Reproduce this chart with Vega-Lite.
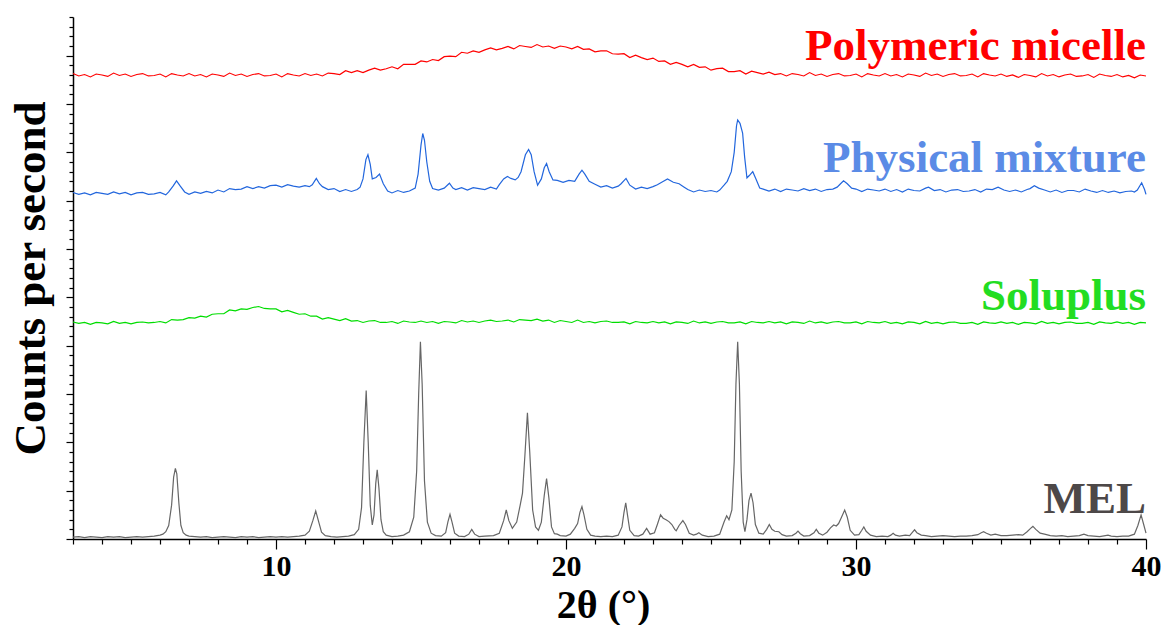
{
"$schema": "https://vega.github.io/schema/vega-lite/v6.json",
"width": 1073, "height": 522,
"autosize": {"type": "none"},
"padding": {"left": 73, "top": 17, "right": 16, "bottom": 86},
"background": "white",
"config": {"view": {"stroke": null}, "axis": {"grid": false, "domainColor": "black", "tickColor": "black", "domainWidth": 1.5, "tickWidth": 1.2}},
"datasets": {
"mel": [{"x":3.0,"y":0.4},{"x":3.2,"y":0.5},{"x":3.4,"y":0.3},{"x":3.6,"y":0.5},{"x":3.8,"y":0.4},{"x":4.0,"y":0.3},{"x":4.2,"y":0.5},{"x":4.4,"y":0.4},{"x":4.6,"y":0.5},{"x":4.8,"y":0.3},{"x":5.0,"y":0.4},{"x":5.2,"y":0.5},{"x":5.4,"y":0.4},{"x":5.6,"y":0.5},{"x":5.8,"y":0.6},{"x":6.0,"y":0.8},{"x":6.1,"y":1.0},{"x":6.2,"y":1.5},{"x":6.3,"y":2.8},{"x":6.4,"y":7.0},{"x":6.47,"y":12.8},{"x":6.53,"y":14.6},{"x":6.58,"y":13.5},{"x":6.65,"y":7.5},{"x":6.72,"y":2.8},{"x":6.8,"y":1.3},{"x":6.9,"y":0.8},{"x":7.0,"y":0.6},{"x":7.2,"y":0.5},{"x":7.4,"y":0.4},{"x":7.6,"y":0.5},{"x":7.8,"y":0.3},{"x":8.0,"y":0.4},{"x":8.2,"y":0.5},{"x":8.4,"y":0.4},{"x":8.6,"y":0.3},{"x":8.8,"y":0.5},{"x":9.0,"y":0.4},{"x":9.2,"y":0.5},{"x":9.4,"y":0.3},{"x":9.6,"y":0.4},{"x":9.8,"y":0.5},{"x":10.0,"y":0.4},{"x":10.2,"y":0.5},{"x":10.4,"y":0.4},{"x":10.6,"y":0.5},{"x":10.8,"y":0.6},{"x":11.0,"y":0.8},{"x":11.15,"y":1.6},{"x":11.27,"y":3.8},{"x":11.37,"y":5.8},{"x":11.47,"y":3.6},{"x":11.57,"y":1.4},{"x":11.7,"y":0.7},{"x":11.9,"y":0.5},{"x":12.1,"y":0.4},{"x":12.3,"y":0.5},{"x":12.5,"y":0.6},{"x":12.7,"y":0.9},{"x":12.85,"y":2.0},{"x":12.95,"y":6.5},{"x":13.03,"y":20.0},{"x":13.11,"y":30.7},{"x":13.18,"y":20.0},{"x":13.25,"y":7.0},{"x":13.32,"y":2.9},{"x":13.38,"y":5.0},{"x":13.44,"y":11.5},{"x":13.49,"y":14.3},{"x":13.55,"y":10.5},{"x":13.62,"y":4.0},{"x":13.7,"y":1.5},{"x":13.8,"y":0.8},{"x":14.0,"y":0.5},{"x":14.2,"y":0.6},{"x":14.4,"y":0.8},{"x":14.6,"y":1.5},{"x":14.75,"y":4.5},{"x":14.85,"y":14.0},{"x":14.92,"y":30.0},{"x":14.98,"y":40.8},{"x":15.04,"y":32.0},{"x":15.12,"y":12.0},{"x":15.22,"y":3.5},{"x":15.35,"y":1.2},{"x":15.5,"y":0.7},{"x":15.7,"y":0.6},{"x":15.85,"y":1.3},{"x":15.93,"y":3.6},{"x":16.0,"y":5.1},{"x":16.07,"y":3.5},{"x":16.16,"y":1.2},{"x":16.3,"y":0.6},{"x":16.5,"y":0.5},{"x":16.65,"y":1.0},{"x":16.75,"y":2.0},{"x":16.85,"y":1.0},{"x":17.0,"y":0.5},{"x":17.2,"y":0.6},{"x":17.5,"y":0.7},{"x":17.7,"y":1.2},{"x":17.85,"y":3.8},{"x":17.94,"y":6.0},{"x":18.03,"y":3.8},{"x":18.15,"y":2.2},{"x":18.3,"y":3.5},{"x":18.42,"y":7.0},{"x":18.5,"y":9.5},{"x":18.58,"y":17.0},{"x":18.67,"y":26.1},{"x":18.75,"y":18.0},{"x":18.85,"y":6.0},{"x":18.95,"y":2.5},{"x":19.05,"y":1.8},{"x":19.15,"y":3.5},{"x":19.25,"y":9.0},{"x":19.33,"y":12.5},{"x":19.41,"y":8.5},{"x":19.5,"y":2.5},{"x":19.6,"y":1.1},{"x":19.7,"y":1.0},{"x":19.8,"y":0.7},{"x":20.0,"y":0.6},{"x":20.15,"y":1.0},{"x":20.3,"y":2.2},{"x":20.4,"y":3.2},{"x":20.48,"y":5.5},{"x":20.55,"y":6.7},{"x":20.62,"y":5.0},{"x":20.72,"y":2.0},{"x":20.85,"y":0.8},{"x":21.0,"y":0.6},{"x":21.2,"y":0.5},{"x":21.4,"y":0.6},{"x":21.6,"y":0.5},{"x":21.8,"y":0.8},{"x":21.93,"y":2.5},{"x":22.0,"y":5.5},{"x":22.06,"y":7.5},{"x":22.12,"y":5.0},{"x":22.2,"y":1.8},{"x":22.35,"y":0.7},{"x":22.5,"y":0.6},{"x":22.65,"y":1.0},{"x":22.78,"y":2.2},{"x":22.9,"y":1.0},{"x":23.05,"y":1.3},{"x":23.15,"y":3.0},{"x":23.26,"y":5.0},{"x":23.35,"y":4.3},{"x":23.45,"y":4.0},{"x":23.55,"y":3.6},{"x":23.65,"y":3.0},{"x":23.75,"y":2.0},{"x":23.8,"y":1.7},{"x":23.9,"y":2.8},{"x":24.03,"y":3.8},{"x":24.12,"y":3.0},{"x":24.25,"y":1.2},{"x":24.4,"y":0.8},{"x":24.5,"y":1.0},{"x":24.58,"y":1.3},{"x":24.7,"y":0.8},{"x":24.9,"y":0.5},{"x":25.1,"y":0.6},{"x":25.3,"y":1.0},{"x":25.45,"y":3.5},{"x":25.54,"y":4.8},{"x":25.62,"y":4.0},{"x":25.72,"y":6.0},{"x":25.8,"y":16.0},{"x":25.86,"y":32.0},{"x":25.92,"y":40.8},{"x":25.98,"y":32.0},{"x":26.04,"y":14.0},{"x":26.11,"y":3.5},{"x":26.17,"y":1.5},{"x":26.24,"y":4.0},{"x":26.31,"y":8.0},{"x":26.38,"y":9.5},{"x":26.45,"y":7.5},{"x":26.53,"y":3.0},{"x":26.65,"y":1.2},{"x":26.8,"y":1.0},{"x":26.92,"y":2.0},{"x":27.01,"y":3.0},{"x":27.1,"y":2.0},{"x":27.2,"y":1.6},{"x":27.34,"y":1.5},{"x":27.45,"y":0.9},{"x":27.6,"y":0.6},{"x":27.8,"y":0.7},{"x":27.93,"y":1.2},{"x":28.0,"y":1.65},{"x":28.08,"y":1.1},{"x":28.2,"y":0.6},{"x":28.4,"y":0.7},{"x":28.55,"y":1.3},{"x":28.63,"y":2.0},{"x":28.72,"y":1.2},{"x":28.85,"y":0.8},{"x":29.0,"y":1.4},{"x":29.12,"y":2.3},{"x":29.23,"y":2.9},{"x":29.32,"y":2.7},{"x":29.4,"y":3.2},{"x":29.5,"y":4.5},{"x":29.61,"y":6.0},{"x":29.7,"y":4.5},{"x":29.8,"y":1.8},{"x":29.95,"y":0.8},{"x":30.1,"y":0.9},{"x":30.2,"y":1.8},{"x":30.27,"y":2.5},{"x":30.35,"y":1.6},{"x":30.5,"y":0.8},{"x":30.7,"y":0.5},{"x":30.9,"y":0.6},{"x":31.1,"y":0.5},{"x":31.2,"y":0.8},{"x":31.28,"y":1.2},{"x":31.36,"y":0.8},{"x":31.5,"y":0.6},{"x":31.7,"y":0.8},{"x":31.85,"y":0.7},{"x":31.95,"y":1.4},{"x":32.02,"y":1.9},{"x":32.1,"y":1.3},{"x":32.25,"y":0.8},{"x":32.4,"y":0.7},{"x":32.6,"y":0.5},{"x":32.8,"y":0.6},{"x":33.0,"y":0.7},{"x":33.2,"y":0.6},{"x":33.4,"y":0.5},{"x":33.6,"y":0.6},{"x":33.8,"y":0.6},{"x":34.0,"y":0.7},{"x":34.2,"y":0.9},{"x":34.32,"y":1.3},{"x":34.4,"y":1.5},{"x":34.5,"y":1.2},{"x":34.65,"y":0.8},{"x":34.8,"y":1.0},{"x":35.0,"y":0.7},{"x":35.2,"y":0.7},{"x":35.4,"y":0.8},{"x":35.6,"y":0.9},{"x":35.75,"y":0.8},{"x":35.9,"y":1.5},{"x":36.02,"y":2.2},{"x":36.1,"y":2.6},{"x":36.2,"y":2.0},{"x":36.35,"y":1.2},{"x":36.5,"y":1.0},{"x":36.7,"y":0.7},{"x":36.9,"y":0.6},{"x":37.1,"y":0.7},{"x":37.3,"y":0.5},{"x":37.5,"y":0.6},{"x":37.7,"y":0.7},{"x":37.86,"y":1.0},{"x":38.0,"y":0.7},{"x":38.2,"y":0.6},{"x":38.4,"y":0.5},{"x":38.6,"y":0.7},{"x":38.69,"y":0.8},{"x":38.8,"y":0.6},{"x":39.0,"y":0.5},{"x":39.2,"y":0.6},{"x":39.4,"y":0.6},{"x":39.6,"y":1.0},{"x":39.72,"y":2.8},{"x":39.83,"y":5.0},{"x":39.92,"y":3.0},{"x":40.0,"y":1.2}],
"sol": [{"x":3.0,"y":44.9},{"x":3.2,"y":44.6},{"x":3.4,"y":44.8},{"x":3.6,"y":44.4},{"x":3.8,"y":44.8},{"x":4.0,"y":44.7},{"x":4.2,"y":44.5},{"x":4.4,"y":45.0},{"x":4.6,"y":44.6},{"x":4.8,"y":44.8},{"x":5.0,"y":44.5},{"x":5.2,"y":44.8},{"x":5.4,"y":44.9},{"x":5.6,"y":44.7},{"x":5.8,"y":44.8},{"x":6.0,"y":45.0},{"x":6.2,"y":44.7},{"x":6.4,"y":45.4},{"x":6.6,"y":45.3},{"x":6.8,"y":45.4},{"x":7.0,"y":45.8},{"x":7.2,"y":45.7},{"x":7.4,"y":46.1},{"x":7.6,"y":45.9},{"x":7.8,"y":46.5},{"x":8.0,"y":46.6},{"x":8.2,"y":46.6},{"x":8.4,"y":47.4},{"x":8.6,"y":47.2},{"x":8.8,"y":47.6},{"x":9.0,"y":47.5},{"x":9.2,"y":47.9},{"x":9.4,"y":48.1},{"x":9.6,"y":47.7},{"x":9.8,"y":47.6},{"x":10.0,"y":47.6},{"x":10.2,"y":47.0},{"x":10.4,"y":47.3},{"x":10.6,"y":46.9},{"x":10.8,"y":46.5},{"x":11.0,"y":46.6},{"x":11.2,"y":46.1},{"x":11.4,"y":46.1},{"x":11.6,"y":45.5},{"x":11.8,"y":45.8},{"x":12.0,"y":45.5},{"x":12.2,"y":45.2},{"x":12.4,"y":45.6},{"x":12.6,"y":45.1},{"x":12.8,"y":45.2},{"x":13.0,"y":44.8},{"x":13.2,"y":45.1},{"x":13.4,"y":45.2},{"x":13.6,"y":44.8},{"x":13.8,"y":44.8},{"x":14.0,"y":45.0},{"x":14.2,"y":44.6},{"x":14.4,"y":45.1},{"x":14.6,"y":44.9},{"x":14.8,"y":44.8},{"x":15.0,"y":45.1},{"x":15.2,"y":44.8},{"x":15.4,"y":45.0},{"x":15.6,"y":44.6},{"x":15.8,"y":45.0},{"x":16.0,"y":44.9},{"x":16.2,"y":44.7},{"x":16.4,"y":45.2},{"x":16.6,"y":44.9},{"x":16.8,"y":45.1},{"x":17.0,"y":44.8},{"x":17.2,"y":45.1},{"x":17.4,"y":45.3},{"x":17.6,"y":45.0},{"x":17.8,"y":45.1},{"x":18.0,"y":45.3},{"x":18.2,"y":44.9},{"x":18.4,"y":45.4},{"x":18.6,"y":45.3},{"x":18.8,"y":45.2},{"x":19.0,"y":45.5},{"x":19.2,"y":45.1},{"x":19.4,"y":45.3},{"x":19.6,"y":44.8},{"x":19.8,"y":45.2},{"x":20.0,"y":45.0},{"x":20.2,"y":44.8},{"x":20.4,"y":45.3},{"x":20.6,"y":44.8},{"x":20.8,"y":45.0},{"x":21.0,"y":44.7},{"x":21.2,"y":45.0},{"x":21.4,"y":45.1},{"x":21.6,"y":44.8},{"x":21.8,"y":44.8},{"x":22.0,"y":44.9},{"x":22.2,"y":44.5},{"x":22.4,"y":45.0},{"x":22.6,"y":44.8},{"x":22.8,"y":44.7},{"x":23.0,"y":45.0},{"x":23.2,"y":44.7},{"x":23.4,"y":44.9},{"x":23.6,"y":44.5},{"x":23.8,"y":44.9},{"x":24.0,"y":44.8},{"x":24.2,"y":44.6},{"x":24.4,"y":45.1},{"x":24.6,"y":44.7},{"x":24.8,"y":44.9},{"x":25.0,"y":44.6},{"x":25.2,"y":44.9},{"x":25.4,"y":45.0},{"x":25.6,"y":44.7},{"x":25.8,"y":44.7},{"x":26.0,"y":44.9},{"x":26.2,"y":44.5},{"x":26.4,"y":45.0},{"x":26.6,"y":44.8},{"x":26.8,"y":44.7},{"x":27.0,"y":45.0},{"x":27.2,"y":44.7},{"x":27.4,"y":44.9},{"x":27.6,"y":44.5},{"x":27.8,"y":44.9},{"x":28.0,"y":44.8},{"x":28.2,"y":44.6},{"x":28.4,"y":45.1},{"x":28.6,"y":44.7},{"x":28.8,"y":44.9},{"x":29.0,"y":44.6},{"x":29.2,"y":44.9},{"x":29.4,"y":45.0},{"x":29.6,"y":44.7},{"x":29.8,"y":44.7},{"x":30.0,"y":44.9},{"x":30.2,"y":44.5},{"x":30.4,"y":45.0},{"x":30.6,"y":44.8},{"x":30.8,"y":44.7},{"x":31.0,"y":45.0},{"x":31.2,"y":44.6},{"x":31.4,"y":44.8},{"x":31.6,"y":44.5},{"x":31.8,"y":44.9},{"x":32.0,"y":44.8},{"x":32.2,"y":44.5},{"x":32.4,"y":45.0},{"x":32.6,"y":44.6},{"x":32.8,"y":44.8},{"x":33.0,"y":44.5},{"x":33.2,"y":44.8},{"x":33.4,"y":44.9},{"x":33.6,"y":44.6},{"x":33.8,"y":44.6},{"x":34.0,"y":44.8},{"x":34.2,"y":44.4},{"x":34.4,"y":44.9},{"x":34.6,"y":44.7},{"x":34.8,"y":44.6},{"x":35.0,"y":44.9},{"x":35.2,"y":44.6},{"x":35.4,"y":44.8},{"x":35.6,"y":44.4},{"x":35.8,"y":44.8},{"x":36.0,"y":44.7},{"x":36.2,"y":44.5},{"x":36.4,"y":45.0},{"x":36.6,"y":44.6},{"x":36.8,"y":44.8},{"x":37.0,"y":44.5},{"x":37.2,"y":44.8},{"x":37.4,"y":44.9},{"x":37.6,"y":44.6},{"x":37.8,"y":44.6},{"x":38.0,"y":44.8},{"x":38.2,"y":44.4},{"x":38.4,"y":44.9},{"x":38.6,"y":44.7},{"x":38.8,"y":44.6},{"x":39.0,"y":44.9},{"x":39.2,"y":44.6},{"x":39.4,"y":44.8},{"x":39.6,"y":44.4},{"x":39.8,"y":44.8},{"x":40.0,"y":44.7}],
"pm": [{"x":3.0,"y":71.7},{"x":3.2,"y":71.3},{"x":3.4,"y":71.6},{"x":3.6,"y":71.2},{"x":3.8,"y":71.7},{"x":4.0,"y":71.5},{"x":4.2,"y":71.3},{"x":4.4,"y":71.8},{"x":4.6,"y":71.4},{"x":4.8,"y":71.7},{"x":5.0,"y":71.2},{"x":5.2,"y":71.6},{"x":5.4,"y":71.7},{"x":5.6,"y":71.3},{"x":5.8,"y":71.4},{"x":6.0,"y":71.7},{"x":6.2,"y":71.2},{"x":6.3,"y":71.8},{"x":6.45,"y":73.0},{"x":6.57,"y":74.1},{"x":6.7,"y":73.0},{"x":6.85,"y":71.8},{"x":7.0,"y":71.3},{"x":7.2,"y":71.8},{"x":7.4,"y":71.5},{"x":7.6,"y":71.9},{"x":7.8,"y":71.6},{"x":8.0,"y":72.2},{"x":8.2,"y":71.8},{"x":8.4,"y":72.5},{"x":8.6,"y":72.3},{"x":8.8,"y":72.4},{"x":9.0,"y":72.9},{"x":9.2,"y":72.5},{"x":9.4,"y":72.9},{"x":9.6,"y":72.6},{"x":9.8,"y":73.1},{"x":10.0,"y":73.2},{"x":10.2,"y":72.8},{"x":10.4,"y":73.3},{"x":10.6,"y":73.0},{"x":10.8,"y":72.8},{"x":11.0,"y":73.1},{"x":11.15,"y":72.9},{"x":11.25,"y":73.3},{"x":11.39,"y":74.6},{"x":11.5,"y":73.5},{"x":11.6,"y":72.9},{"x":11.8,"y":72.3},{"x":12.0,"y":72.5},{"x":12.2,"y":71.9},{"x":12.4,"y":72.3},{"x":12.6,"y":71.9},{"x":12.8,"y":72.3},{"x":12.9,"y":72.8},{"x":13.0,"y":74.5},{"x":13.1,"y":78.5},{"x":13.17,"y":79.5},{"x":13.25,"y":77.5},{"x":13.32,"y":74.5},{"x":13.45,"y":74.8},{"x":13.57,"y":75.5},{"x":13.7,"y":73.5},{"x":13.85,"y":72.0},{"x":14.0,"y":71.6},{"x":14.2,"y":72.1},{"x":14.4,"y":71.7},{"x":14.6,"y":72.0},{"x":14.8,"y":72.6},{"x":14.9,"y":75.5},{"x":15.0,"y":81.5},{"x":15.06,"y":83.9},{"x":15.12,"y":82.5},{"x":15.2,"y":78.0},{"x":15.3,"y":74.0},{"x":15.4,"y":72.5},{"x":15.6,"y":72.2},{"x":15.8,"y":72.6},{"x":15.98,"y":73.6},{"x":16.1,"y":72.6},{"x":16.2,"y":72.3},{"x":16.4,"y":72.7},{"x":16.6,"y":72.2},{"x":16.8,"y":72.7},{"x":17.0,"y":72.5},{"x":17.2,"y":72.3},{"x":17.4,"y":72.8},{"x":17.6,"y":72.4},{"x":17.7,"y":73.3},{"x":17.85,"y":74.5},{"x":17.98,"y":75.0},{"x":18.1,"y":74.6},{"x":18.25,"y":74.3},{"x":18.35,"y":74.8},{"x":18.45,"y":76.0},{"x":18.6,"y":79.5},{"x":18.71,"y":80.6},{"x":18.8,"y":79.5},{"x":18.9,"y":76.0},{"x":19.02,"y":73.2},{"x":19.15,"y":74.5},{"x":19.25,"y":76.8},{"x":19.33,"y":77.7},{"x":19.42,"y":76.0},{"x":19.55,"y":74.3},{"x":19.7,"y":74.2},{"x":19.9,"y":73.8},{"x":20.1,"y":74.2},{"x":20.3,"y":74.0},{"x":20.45,"y":75.5},{"x":20.55,"y":76.3},{"x":20.65,"y":75.5},{"x":20.8,"y":74.0},{"x":21.0,"y":73.4},{"x":21.2,"y":72.8},{"x":21.4,"y":73.1},{"x":21.6,"y":72.6},{"x":21.8,"y":73.0},{"x":21.9,"y":73.5},{"x":22.07,"y":74.6},{"x":22.2,"y":73.2},{"x":22.4,"y":72.4},{"x":22.6,"y":72.8},{"x":22.8,"y":72.5},{"x":23.0,"y":72.9},{"x":23.15,"y":73.3},{"x":23.3,"y":73.8},{"x":23.5,"y":74.5},{"x":23.7,"y":73.8},{"x":23.9,"y":73.5},{"x":24.05,"y":72.9},{"x":24.2,"y":72.3},{"x":24.4,"y":71.8},{"x":24.6,"y":72.2},{"x":24.8,"y":71.9},{"x":25.0,"y":72.1},{"x":25.2,"y":71.8},{"x":25.3,"y":72.2},{"x":25.45,"y":73.2},{"x":25.56,"y":74.0},{"x":25.7,"y":76.0},{"x":25.8,"y":80.0},{"x":25.88,"y":85.5},{"x":25.92,"y":86.7},{"x":26.0,"y":86.0},{"x":26.09,"y":84.0},{"x":26.16,"y":79.0},{"x":26.24,"y":74.7},{"x":26.32,"y":75.2},{"x":26.44,"y":76.0},{"x":26.55,"y":74.5},{"x":26.68,"y":72.6},{"x":26.8,"y":72.4},{"x":27.0,"y":72.0},{"x":27.2,"y":72.4},{"x":27.4,"y":71.9},{"x":27.6,"y":72.4},{"x":27.8,"y":72.2},{"x":28.0,"y":72.0},{"x":28.2,"y":72.5},{"x":28.4,"y":72.1},{"x":28.6,"y":72.4},{"x":28.8,"y":71.9},{"x":29.0,"y":72.3},{"x":29.2,"y":72.4},{"x":29.35,"y":72.8},{"x":29.45,"y":73.4},{"x":29.57,"y":74.1},{"x":29.7,"y":73.5},{"x":29.85,"y":72.6},{"x":30.0,"y":72.4},{"x":30.2,"y":71.9},{"x":30.4,"y":72.4},{"x":30.6,"y":72.2},{"x":30.8,"y":72.0},{"x":31.0,"y":72.4},{"x":31.2,"y":71.9},{"x":31.4,"y":72.3},{"x":31.6,"y":71.8},{"x":31.8,"y":72.4},{"x":32.0,"y":72.1},{"x":32.2,"y":72.0},{"x":32.4,"y":72.6},{"x":32.5,"y":72.8},{"x":32.7,"y":72.1},{"x":32.9,"y":72.3},{"x":33.1,"y":71.8},{"x":33.3,"y":72.2},{"x":33.5,"y":72.3},{"x":33.7,"y":71.9},{"x":33.9,"y":72.0},{"x":34.1,"y":72.3},{"x":34.3,"y":71.8},{"x":34.5,"y":72.4},{"x":34.7,"y":72.3},{"x":34.9,"y":72.8},{"x":35.1,"y":72.2},{"x":35.3,"y":71.9},{"x":35.5,"y":72.2},{"x":35.7,"y":71.8},{"x":35.9,"y":72.3},{"x":36.0,"y":72.5},{"x":36.15,"y":73.1},{"x":36.3,"y":72.6},{"x":36.5,"y":72.2},{"x":36.7,"y":71.8},{"x":36.9,"y":72.2},{"x":37.1,"y":71.7},{"x":37.3,"y":72.1},{"x":37.5,"y":72.1},{"x":37.7,"y":71.8},{"x":37.9,"y":72.4},{"x":38.1,"y":72.0},{"x":38.3,"y":71.7},{"x":38.5,"y":72.1},{"x":38.7,"y":71.7},{"x":38.9,"y":72.0},{"x":39.1,"y":71.6},{"x":39.3,"y":71.9},{"x":39.5,"y":72.0},{"x":39.6,"y":71.8},{"x":39.7,"y":72.2},{"x":39.85,"y":73.7},{"x":39.95,"y":72.3},{"x":40.0,"y":71.3}],
"mic": [{"x":3.0,"y":96.3},{"x":3.2,"y":95.8},{"x":3.4,"y":96.1},{"x":3.6,"y":95.6},{"x":3.8,"y":96.2},{"x":4.0,"y":96.0},{"x":4.2,"y":95.7},{"x":4.4,"y":96.4},{"x":4.6,"y":95.9},{"x":4.8,"y":96.2},{"x":5.0,"y":95.7},{"x":5.2,"y":96.1},{"x":5.4,"y":96.3},{"x":5.6,"y":95.8},{"x":5.8,"y":95.9},{"x":6.0,"y":96.2},{"x":6.2,"y":95.6},{"x":6.4,"y":96.3},{"x":6.6,"y":96.0},{"x":6.8,"y":95.8},{"x":7.0,"y":96.3},{"x":7.2,"y":95.8},{"x":7.4,"y":96.1},{"x":7.6,"y":95.6},{"x":7.8,"y":96.2},{"x":8.0,"y":96.0},{"x":8.2,"y":95.7},{"x":8.4,"y":96.4},{"x":8.6,"y":95.9},{"x":8.8,"y":96.2},{"x":9.0,"y":95.7},{"x":9.2,"y":96.1},{"x":9.4,"y":96.3},{"x":9.6,"y":95.8},{"x":9.8,"y":95.9},{"x":10.0,"y":96.2},{"x":10.2,"y":95.6},{"x":10.4,"y":96.3},{"x":10.6,"y":96.0},{"x":10.8,"y":95.8},{"x":11.0,"y":96.3},{"x":11.2,"y":95.9},{"x":11.4,"y":96.2},{"x":11.6,"y":95.8},{"x":11.8,"y":96.4},{"x":12.0,"y":96.3},{"x":12.2,"y":96.1},{"x":12.4,"y":96.9},{"x":12.6,"y":96.5},{"x":12.8,"y":96.9},{"x":13.0,"y":96.5},{"x":13.2,"y":97.0},{"x":13.4,"y":97.4},{"x":13.6,"y":97.0},{"x":13.8,"y":97.3},{"x":14.0,"y":97.7},{"x":14.2,"y":97.3},{"x":14.4,"y":98.2},{"x":14.6,"y":98.2},{"x":14.8,"y":98.2},{"x":15.0,"y":98.9},{"x":15.2,"y":98.7},{"x":15.4,"y":99.2},{"x":15.6,"y":99.0},{"x":15.8,"y":99.8},{"x":16.0,"y":99.9},{"x":16.2,"y":99.8},{"x":16.4,"y":100.7},{"x":16.6,"y":100.5},{"x":16.8,"y":101.0},{"x":17.0,"y":100.7},{"x":17.2,"y":101.2},{"x":17.4,"y":101.6},{"x":17.6,"y":101.2},{"x":17.8,"y":101.5},{"x":18.0,"y":101.9},{"x":18.2,"y":101.4},{"x":18.4,"y":102.1},{"x":18.6,"y":101.9},{"x":18.8,"y":101.7},{"x":19.0,"y":102.3},{"x":19.2,"y":101.8},{"x":19.4,"y":102.0},{"x":19.6,"y":101.5},{"x":19.8,"y":102.0},{"x":20.0,"y":101.8},{"x":20.2,"y":101.4},{"x":20.4,"y":101.9},{"x":20.6,"y":101.3},{"x":20.8,"y":101.4},{"x":21.0,"y":100.8},{"x":21.2,"y":101.0},{"x":21.4,"y":101.0},{"x":21.6,"y":100.4},{"x":21.8,"y":100.3},{"x":22.0,"y":100.4},{"x":22.2,"y":99.6},{"x":22.4,"y":100.1},{"x":22.6,"y":99.6},{"x":22.8,"y":99.2},{"x":23.0,"y":99.5},{"x":23.2,"y":98.8},{"x":23.4,"y":98.9},{"x":23.6,"y":98.2},{"x":23.8,"y":98.6},{"x":24.0,"y":98.2},{"x":24.2,"y":97.7},{"x":24.4,"y":98.2},{"x":24.6,"y":97.6},{"x":24.8,"y":97.7},{"x":25.0,"y":97.0},{"x":25.2,"y":97.3},{"x":25.4,"y":97.4},{"x":25.6,"y":96.7},{"x":25.8,"y":96.7},{"x":26.0,"y":96.9},{"x":26.2,"y":96.2},{"x":26.4,"y":96.8},{"x":26.6,"y":96.5},{"x":26.8,"y":96.2},{"x":27.0,"y":96.6},{"x":27.2,"y":96.1},{"x":27.4,"y":96.3},{"x":27.6,"y":95.8},{"x":27.8,"y":96.3},{"x":28.0,"y":96.1},{"x":28.2,"y":95.8},{"x":28.4,"y":96.5},{"x":28.6,"y":95.9},{"x":28.8,"y":96.2},{"x":29.0,"y":95.7},{"x":29.2,"y":96.1},{"x":29.4,"y":96.3},{"x":29.6,"y":95.8},{"x":29.8,"y":95.9},{"x":30.0,"y":96.2},{"x":30.2,"y":95.6},{"x":30.4,"y":96.3},{"x":30.6,"y":96.0},{"x":30.8,"y":95.8},{"x":31.0,"y":96.3},{"x":31.2,"y":95.8},{"x":31.4,"y":96.1},{"x":31.6,"y":95.6},{"x":31.8,"y":96.2},{"x":32.0,"y":96.0},{"x":32.2,"y":95.7},{"x":32.4,"y":96.4},{"x":32.6,"y":95.9},{"x":32.8,"y":96.2},{"x":33.0,"y":95.7},{"x":33.2,"y":96.1},{"x":33.4,"y":96.3},{"x":33.6,"y":95.8},{"x":33.8,"y":95.9},{"x":34.0,"y":96.2},{"x":34.2,"y":95.6},{"x":34.4,"y":96.3},{"x":34.6,"y":96.0},{"x":34.8,"y":95.8},{"x":35.0,"y":96.2},{"x":35.2,"y":95.7},{"x":35.4,"y":96.0},{"x":35.6,"y":95.5},{"x":35.8,"y":96.1},{"x":36.0,"y":95.9},{"x":36.2,"y":95.6},{"x":36.4,"y":96.3},{"x":36.6,"y":95.8},{"x":36.8,"y":96.1},{"x":37.0,"y":95.6},{"x":37.2,"y":96.0},{"x":37.4,"y":96.2},{"x":37.6,"y":95.7},{"x":37.8,"y":95.8},{"x":38.0,"y":96.1},{"x":38.2,"y":95.5},{"x":38.4,"y":96.2},{"x":38.6,"y":95.9},{"x":38.8,"y":95.7},{"x":39.0,"y":96.1},{"x":39.2,"y":95.6},{"x":39.4,"y":95.9},{"x":39.6,"y":95.4},{"x":39.8,"y":96.0},{"x":40.0,"y":95.8}]
},
"encoding": {
  "x": {"field": "x", "type": "quantitative", "title": "2θ (°)",
    "scale": {"domain": [3, 40], "nice": false, "zero": false},
    "axis": {"values": [3,4,5,6,7,8,9,10,11,12,13,14,15,16,17,18,19,20,21,22,23,24,25,26,27,28,29,30,31,32,33,34,35,36,37,38,39,40],
      "labelExpr": "datum.value % 10 === 0 ? datum.label : ''",
      "tickSize": {"condition": {"test": "datum.value % 10 === 0", "value": 10}, "value": 5},
      "labelOverlap": false, "labelFlush": false,
      "labelFont": "Liberation Serif", "labelFontWeight": "bold", "labelFontSize": 30, "labelColor": "black", "labelPadding": 2,
      "titleFont": "Liberation Serif", "titleFontWeight": "bold", "titleFontSize": 40, "titleColor": "black", "titlePadding": 4, "titleX": 530}},
  "y": {"field": "y", "type": "quantitative", "title": "Counts per second",
    "scale": {"domain": [0, 108], "nice": false, "zero": false},
    "axis": {"values": [0,2,4,6,8,10,12,14,16,18,20,22,24,26,28,30,32,34,36,38,40,42,44,46,48,50,52,54,56,58,60,62,64,66,68,70,72,74,76,78,80,82,84,86,88,90,92,94,96,98,100,102,104,106,108],
      "labels": false,
      "tickSize": {"condition": {"test": "datum.value % 10 === 0", "value": 7}, "value": 4},
      "titleFont": "Liberation Serif", "titleFontWeight": "bold", "titleFontSize": 45, "titleColor": "black", "titlePadding": 12}}
},
"layer": [
  {"data": {"name": "mel"}, "mark": {"type": "line", "color": "#666666", "strokeWidth": 1.2}},
  {"data": {"name": "sol"}, "mark": {"type": "line", "color": "#00dd00", "strokeWidth": 1.2}},
  {"data": {"name": "pm"}, "mark": {"type": "line", "color": "#2266dd", "strokeWidth": 1.2}},
  {"data": {"name": "mic"}, "mark": {"type": "line", "color": "#ff0000", "strokeWidth": 1.2}},
  {"data": {"values": [{"label": "Polymeric micelle", "x": 40, "y": 99.2}]}, "mark": {"type": "text", "align": "right", "baseline": "alphabetic", "font": "Liberation Serif", "fontWeight": "bold", "fontSize": 45, "color": "#ff0000"}, "encoding": {"text": {"field": "label"}}},
  {"data": {"values": [{"label": "Physical mixture", "x": 40, "y": 75.9}]}, "mark": {"type": "text", "align": "right", "baseline": "alphabetic", "font": "Liberation Serif", "fontWeight": "bold", "fontSize": 45, "color": "#5b8be6"}, "encoding": {"text": {"field": "label"}}},
  {"data": {"values": [{"label": "Soluplus", "x": 40, "y": 47.4}]}, "mark": {"type": "text", "align": "right", "baseline": "alphabetic", "font": "Liberation Serif", "fontWeight": "bold", "fontSize": 45, "color": "#22dd22"}, "encoding": {"text": {"field": "label"}}},
  {"data": {"values": [{"label": "MEL", "x": 40, "y": 5.4}]}, "mark": {"type": "text", "align": "right", "baseline": "alphabetic", "font": "Liberation Serif", "fontWeight": "bold", "fontSize": 45, "color": "#4d4848"}, "encoding": {"text": {"field": "label"}}}
]
}
